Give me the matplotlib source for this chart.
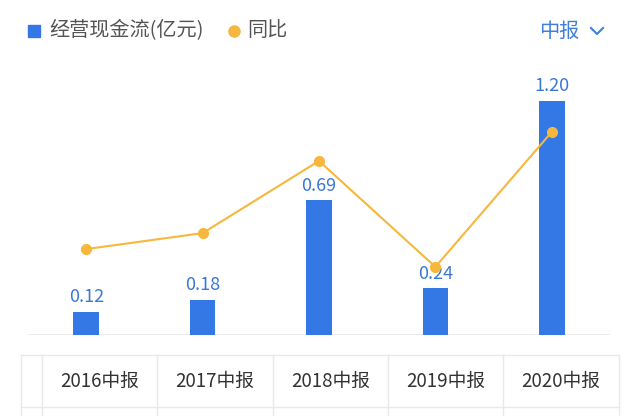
import matplotlib
matplotlib.use("Agg")
import matplotlib.pyplot as plt
from matplotlib.lines import Line2D
from matplotlib.patches import Rectangle

plt.rcParams['font.family'] = ['Noto Sans CJK SC', 'DejaVu Sans']

periods = ["2016中报", "2017中报", "2018中报", "2019中报", "2020中报"]
cash_flow = [0.12, 0.18, 0.69, 0.24, 1.20]   # 亿元
yoy = [-25, 26, 257, -82, 350]

BLUE = "#3478e5"
LABEL_BLUE = "#3a78d4"
ORANGE = "#f6b73c"
GRID = "#e9e9e9"
TEXT = "#333333"

W, H = 640, 416
fig = plt.figure(figsize=(6.4, 4.16), dpi=100)

def fx(px): return px / W
def fy(py): return 1 - py / H

# main chart area: baseline at y=335, top at y=85
ax = fig.add_axes([fx(28), fy(335), fx(610) - fx(28), fy(85) - fy(335)])
x = list(range(len(periods)))
ax.bar(x, cash_flow, width=0.22, color=BLUE, zorder=2)
ax.set_xlim(-0.5, len(periods) - 0.5)
ax.set_ylim(0, 1.28)
for xi, v in zip(x, cash_flow):
    ax.annotate(f"{v:.2f}", (xi, v), xytext=(0, 4), textcoords="offset points",
                ha="center", va="bottom", color=LABEL_BLUE, fontsize=13,
                fontweight="medium", zorder=5)
for s in ax.spines.values():
    s.set_visible(False)
ax.axhline(0, color=GRID, lw=1.2, zorder=1)
ax.set_xticks([]); ax.set_yticks([])
ax.patch.set_alpha(0)

ax2 = ax.twinx()
ax2.set_ylim(-300, 500)
ax2.plot(x, yoy, color=ORANGE, lw=1.5, marker="o", markersize=7, zorder=3)
for s in ax2.spines.values():
    s.set_visible(False)
ax2.set_yticks([])

# legend header
fig.patches.append(Rectangle((fx(28), fy(37)), fx(12), fy(25) - fy(37),
                             transform=fig.transFigure, color=BLUE))
fig.text(fx(49), fy(31), "经营现金流(亿元)", fontsize=14.5, color="#555555", va="center")
fig.lines.append(Line2D([fx(234)], [fy(31)], marker="o", markersize=8,
                        color=ORANGE, transform=fig.transFigure))
fig.text(fx(247), fy(31), "同比", fontsize=14.5, color="#555555", va="center")
fig.text(fx(539), fy(31), "中报", fontsize=14.5, color="#3d7fd9", va="center")
fig.lines.append(Line2D([fx(591), fx(597), fx(603)], [fy(28), fy(34), fy(28)],
                        color="#3d7fd9", lw=1.5, transform=fig.transFigure))

# table below
top, bot = 355, 407
col_edges = [21, 42, 157, 273, 388, 503, 619]
for yy in (top, bot):
    fig.lines.append(Line2D([fx(21), fx(619)], [fy(yy), fy(yy)], color=GRID, lw=1,
                            transform=fig.transFigure))
for xe in col_edges:
    fig.lines.append(Line2D([fx(xe), fx(xe)], [fy(top), fy(416)], color=GRID, lw=1,
                            transform=fig.transFigure))
for i, p in enumerate(periods):
    cx = (col_edges[i + 1] + col_edges[i + 2]) / 2
    fig.text(fx(cx), fy((top + bot) / 2), p, fontsize=13.5, color=TEXT,
             fontweight="medium", ha="center", va="center")

fig.savefig("out.png", dpi=100)
